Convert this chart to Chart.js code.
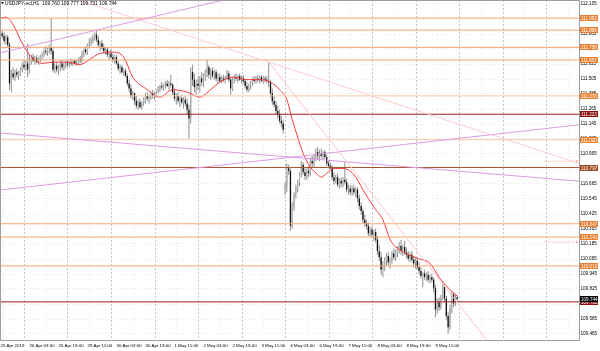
<!DOCTYPE html>
<html>
<head>
<meta charset="utf-8">
<script src="https://cdn.jsdelivr.net/npm/chart.js@4.4.1/dist/chart.umd.min.js"></script>
<style>
html,body{margin:0;padding:0;background:#fff;overflow:hidden}
canvas{display:block}
</style>
</head>
<body>
<canvas id="chart" width="600" height="351"></canvas>
<script>
// ---------------- data ----------------
const symbolTitle = 'USDJPY-ecl,H1';
const lastQuote = ['109.760', '109.777', '109.731', '109.744'];

const openP = [111.84,111.87,111.85,111.81,111.84,111.78,111.47,111.55,111.52,111.56,
111.54,111.55,111.58,111.62,111.60,111.63,111.58,111.66,111.68,111.65,
111.67,111.64,111.66,111.69,111.70,111.73,111.72,111.74,111.76,111.73,
111.58,111.61,111.58,111.60,111.63,111.60,111.62,111.63,111.62,111.64,
111.63,111.65,111.63,111.64,111.66,111.65,111.71,111.74,111.72,111.78,
111.80,111.82,111.84,111.86,111.82,111.78,111.79,111.76,111.73,111.74,
111.70,111.71,111.68,111.66,111.68,111.63,111.59,111.60,111.56,111.57,
111.53,111.47,111.43,111.37,111.39,111.33,111.29,111.32,111.28,111.31,
111.34,111.37,111.35,111.36,111.39,111.37,111.38,111.41,111.43,111.45,
111.44,111.46,111.47,111.45,111.47,111.46,111.40,111.35,111.37,111.33,
111.35,111.32,111.34,111.31,111.26,111.19,111.56,111.50,111.44,111.47,
111.45,111.51,111.48,111.53,111.56,111.60,111.54,111.57,111.53,111.56,
111.51,111.52,111.49,111.51,111.50,111.52,111.55,111.50,111.43,111.50,
111.52,111.51,111.53,111.50,111.51,111.49,111.45,111.42,111.45,111.47,
111.50,111.49,111.51,111.50,111.52,111.49,111.51,111.50,111.49,111.48,
111.39,111.33,111.30,111.25,111.22,111.17,111.15,110.62,110.66,110.79,
110.77,110.33,110.48,110.58,110.63,110.68,110.74,110.82,110.76,110.73,
110.77,110.75,110.85,110.83,110.88,110.92,110.89,110.91,110.89,110.92,
110.88,110.83,110.81,110.80,110.72,110.69,110.72,110.66,110.69,110.67,
110.70,110.68,110.62,110.63,110.60,110.63,110.60,110.62,110.55,110.49,
110.45,110.38,110.35,110.33,110.27,110.30,110.26,110.28,110.22,110.13,
110.08,109.98,110.02,110.05,110.09,110.04,110.06,110.11,110.08,110.12,
110.15,110.17,110.13,110.16,110.12,110.10,110.07,110.10,110.06,110.03,
110.05,110.00,109.97,109.93,109.95,109.92,109.94,109.90,109.92,109.90,
109.83,109.66,109.72,109.68,109.76,109.84,109.75,109.61,109.52,109.67,
109.78,109.71,109.760];

const highP = [111.90,111.89,111.88,111.86,111.86,111.80,111.58,111.60,111.58,111.59,
111.57,111.60,111.64,111.66,111.65,111.79,111.70,111.70,111.71,111.69,
111.70,111.68,111.70,111.72,111.75,111.77,111.76,111.78,111.992,111.75,
111.63,111.64,111.62,111.65,111.66,111.64,111.65,111.66,111.65,111.67,
111.66,111.67,111.66,111.68,111.69,111.73,111.75,111.77,111.79,111.83,
111.84,111.86,111.88,111.896,111.85,111.81,111.82,111.79,111.76,111.76,
111.73,111.74,111.71,111.70,111.70,111.65,111.62,111.62,111.59,111.59,
111.55,111.50,111.46,111.41,111.40,111.37,111.34,111.35,111.33,111.36,
111.39,111.40,111.38,111.40,111.42,111.40,111.42,111.45,111.46,111.48,
111.47,111.49,111.50,111.49,111.54,111.47,111.43,111.39,111.40,111.37,
111.38,111.36,111.37,111.35,111.30,111.60,111.62,111.55,111.50,111.52,
111.53,111.56,111.55,111.58,111.657,111.62,111.59,111.60,111.58,111.58,
111.55,111.55,111.53,111.54,111.53,111.58,111.57,111.52,111.52,111.54,
111.55,111.54,111.55,111.53,111.54,111.51,111.48,111.47,111.49,111.52,
111.53,111.53,111.54,111.53,111.54,111.53,111.53,111.53,111.64,111.50,
111.43,111.37,111.33,111.29,111.26,111.21,111.18,110.68,110.83,110.82,
110.79,110.52,110.60,110.66,110.70,110.76,110.85,110.84,110.80,110.79,
110.81,110.88,110.89,110.90,110.95,110.96,110.94,110.95,110.93,110.94,
110.90,110.86,110.84,110.82,110.76,110.74,110.75,110.71,110.72,110.72,
110.84,110.71,110.66,110.66,110.65,110.66,110.64,110.64,110.58,110.52,
110.47,110.42,110.38,110.36,110.32,110.33,110.30,110.31,110.25,110.18,
110.12,110.05,110.08,110.11,110.12,110.08,110.13,110.15,110.14,110.17,
110.20,110.22,110.18,110.21,110.16,110.13,110.12,110.13,110.09,110.07,
110.08,110.04,110.00,109.96,109.98,109.96,109.97,109.94,109.95,109.92,
109.86,109.75,109.76,109.78,109.88,109.86,109.77,109.64,109.70,109.80,
109.80,109.78,109.777];

const lowP = [111.82,111.83,111.79,111.78,111.76,111.42,111.40,111.50,111.49,111.52,
111.50,111.53,111.56,111.58,111.57,111.52,111.55,111.62,111.64,111.62,
111.63,111.62,111.64,111.66,111.68,111.70,111.69,111.71,111.70,111.56,
111.55,111.56,111.54,111.57,111.58,111.57,111.59,111.60,111.60,111.61,
111.61,111.62,111.61,111.62,111.63,111.63,111.68,111.70,111.70,111.75,
111.77,111.79,111.81,111.80,111.76,111.73,111.74,111.71,111.70,111.68,
111.66,111.67,111.64,111.63,111.62,111.57,111.55,111.55,111.53,111.52,
111.45,111.40,111.35,111.34,111.30,111.27,111.26,111.27,111.26,111.29,
111.31,111.33,111.31,111.34,111.35,111.34,111.36,111.39,111.40,111.42,
111.41,111.43,111.44,111.42,111.44,111.38,111.33,111.30,111.31,111.28,
111.30,111.27,111.29,111.22,111.03,111.15,111.45,111.40,111.38,111.42,
111.40,111.45,111.44,111.49,111.52,111.51,111.50,111.51,111.50,111.49,
111.47,111.48,111.47,111.48,111.47,111.50,111.48,111.38,111.41,111.47,
111.49,111.48,111.49,111.47,111.47,111.43,111.40,111.40,111.42,111.45,
111.47,111.47,111.48,111.47,111.48,111.47,111.48,111.47,111.44,111.36,
111.30,111.28,111.22,111.19,111.15,111.12,111.07,110.58,110.60,110.74,
110.29,110.31,110.45,110.55,110.60,110.65,110.72,110.74,110.70,110.70,
110.72,110.73,110.80,110.80,110.85,110.86,110.85,110.87,110.86,110.87,
110.81,110.79,110.78,110.70,110.66,110.67,110.64,110.63,110.64,110.64,
110.66,110.60,110.58,110.58,110.57,110.58,110.56,110.52,110.46,110.42,
110.35,110.32,110.30,110.25,110.24,110.24,110.21,110.20,110.10,110.05,
109.94,109.92,109.97,110.01,110.01,109.99,110.03,110.06,110.05,110.08,
110.11,110.10,110.09,110.10,110.07,110.05,110.04,110.04,110.00,109.99,
109.98,109.94,109.91,109.84,109.90,109.89,109.88,109.87,109.88,109.80,
109.60,109.63,109.65,109.66,109.74,109.72,109.58,109.47,109.50,109.63,
109.68,109.69,109.731];

const closeP = [111.87,111.85,111.81,111.84,111.78,111.47,111.55,111.52,111.56,111.54,
111.55,111.58,111.62,111.60,111.63,111.58,111.66,111.68,111.65,111.67,
111.64,111.66,111.69,111.70,111.73,111.72,111.74,111.76,111.73,111.58,
111.61,111.58,111.60,111.63,111.60,111.62,111.63,111.62,111.64,111.63,
111.65,111.63,111.64,111.66,111.65,111.71,111.74,111.72,111.78,111.80,
111.82,111.84,111.86,111.82,111.78,111.79,111.76,111.73,111.74,111.70,
111.71,111.68,111.66,111.68,111.63,111.59,111.60,111.56,111.57,111.53,
111.47,111.43,111.37,111.39,111.33,111.29,111.32,111.28,111.31,111.34,
111.37,111.35,111.36,111.39,111.37,111.38,111.41,111.43,111.45,111.44,
111.46,111.47,111.45,111.47,111.46,111.40,111.35,111.37,111.33,111.35,
111.32,111.34,111.31,111.26,111.19,111.56,111.50,111.44,111.47,111.45,
111.51,111.48,111.53,111.56,111.60,111.54,111.57,111.53,111.56,111.51,
111.52,111.49,111.51,111.50,111.52,111.55,111.50,111.43,111.50,111.52,
111.51,111.53,111.50,111.51,111.49,111.45,111.42,111.45,111.47,111.50,
111.49,111.51,111.50,111.52,111.49,111.51,111.50,111.49,111.48,111.39,
111.33,111.30,111.25,111.22,111.17,111.15,111.10,110.66,110.79,110.77,
110.33,110.48,110.58,110.63,110.68,110.74,110.82,110.76,110.73,110.77,
110.75,110.85,110.83,110.88,110.92,110.89,110.91,110.89,110.92,110.88,
110.83,110.81,110.80,110.72,110.69,110.72,110.66,110.69,110.67,110.70,
110.68,110.62,110.63,110.60,110.63,110.60,110.62,110.55,110.49,110.45,
110.38,110.35,110.33,110.27,110.30,110.26,110.28,110.22,110.13,110.08,
109.98,110.02,110.05,110.09,110.04,110.06,110.11,110.08,110.12,110.15,
110.17,110.13,110.16,110.12,110.10,110.07,110.10,110.06,110.03,110.05,
110.00,109.97,109.93,109.95,109.92,109.94,109.90,109.92,109.90,109.83,
109.66,109.72,109.68,109.76,109.84,109.75,109.61,109.52,109.67,109.78,
109.71,109.76,109.744];

// moving average (bar index, price)
const maBars   = [0,3,7,11,15,18,23,29,37,44,49,55,62,68,73,81,88,95,103,110,116,121,128,136,143,149,154,158,161,164,167,171,175,177,180,184,189,195,200,206,211,215,220,230,237,242,248,252];
const maValues = [111.99,112.00,111.94,111.82,111.72,111.67,111.63,111.64,111.64,111.62,111.66,111.71,111.72,111.68,111.52,111.42,111.36,111.42,111.40,111.36,111.42,111.48,111.52,111.50,111.50,111.48,111.42,111.34,111.18,111.04,110.91,110.80,110.74,110.72,110.75,110.79,110.79,110.74,110.62,110.48,110.38,110.22,110.14,110.07,110.03,109.92,109.82,109.77];

// time axis labels (every 16 H1 bars)
const labelBars  = [0,16,32,48,64,80,96,112,128,144,160,176,192,208,224,240];
const timeLabels = ['25 Apr 2019','26 Apr 03:00','26 Apr 19:00','29 Apr 11:00','30 Apr 03:00','30 Apr 19:00','1 May 11:00','2 May 03:00','2 May 19:00','3 May 11:00','6 May 03:00','6 May 19:00','7 May 11:00','8 May 03:00','8 May 19:00','9 May 11:00'];
const dayStartBars = [13,37,61,85,109,133,157,181,205,229,253,277,301];
const noonBars = [1,25,49,73,97,121,145,169,193,217,241,265,289,313];

// price axis ticks
const priceTicks = [112.105,111.985,111.865,111.745,111.625,111.505,111.385,111.265,111.145,111.025,110.905,110.785,110.665,110.545,110.425,110.305,110.185,110.065,109.945,109.825,109.705,109.585,109.465];

// horizontal price levels
const levelPrices = [111.992,111.896,111.758,111.657,111.370,111.223,111.020,110.797,110.347,110.241,110.010,109.722];
// trend lines: two anchor points each (bar index, price)
const purpleUpLine    = [[0,111.714],[53,111.896]];
const pinkShallowLine = [[148,111.640],[300,110.921]];
const pinkSteepLine   = [[148,111.640],[240,109.940]];
const purpleDownLine  = [[0,111.073],[300,110.711]];
const purpleRiseLine  = [[0,110.617],[300,111.107]];
// small alert markers near the price axis
const alertPrices = [110.849, 110.201];
const alertBars = [300, 318];

// ---------------- styles ----------------
const levelStyle = ['o','o','o','o','l','r','l','b','o','o','o','r'];
const STY = {
  o: {line:'#f3a670', label:'#e97f30'},
  l: {line:'#f7c8a6', label:'#ea8435'},
  r: {line:'#9a1e1e', label:'#8c0f0f'},
  b: {line:'#a5572d', label:'#9a4b1f'}
};
const X_MIN = -0.24, X_MAX = 319.2;
const Y_MIN = 109.417, Y_MAX = 112.137;
const FONT = '"Liberation Sans", Arial, sans-serif';

// ---------------- build ----------------
const isBull = i => closeP[i] >= openP[i];
const wickData = highP.map((h, i) => ({x: i, y: [lowP[i], h]}));
const bodyData = openP.map((o, i) => ({x: i, y: [o, closeP[i]]}));
const maData = maBars.map((b, i) => ({x: b, y: maValues[i]}));

function through(a, b, x0, x1) {
  const s = (b[1] - a[1]) / (b[0] - a[0]);
  return [{x: x0, y: a[1] + s * (x0 - a[0])}, {x: x1, y: a[1] + s * (x1 - a[0])}];
}
function lineDs(data, color, order, extra) {
  return Object.assign({type: 'line', data, borderColor: color, borderWidth: 1, pointRadius: 0,
    fill: false, tension: 0, order}, extra || {});
}

const datasets = [];
levelPrices.forEach((p, i) => {
  datasets.push(lineDs([{x: -2, y: p}, {x: 330, y: p}], STY[levelStyle[i]].line, 3));
});
datasets.push(lineDs(through(purpleUpLine[0], purpleUpLine[1], -2, 330), '#dc9ae2', 2));
datasets.push(lineDs(through(pinkShallowLine[0], pinkShallowLine[1], -2, 330), '#ffcad2', 2));
datasets.push(lineDs(through(pinkSteepLine[0], pinkSteepLine[1], pinkSteepLine[0][0], 330), '#ffc4cc', 2));
datasets.push(lineDs(through(purpleDownLine[0], purpleDownLine[1], -2, 330), '#dc9ae2', 2));
datasets.push(lineDs(through(purpleRiseLine[0], purpleRiseLine[1], -2, 330), '#dc9ae2', 2));
alertPrices.forEach(p => {
  datasets.push(lineDs(alertBars.map(b => ({x: b, y: p})), '#f6b0a0', 2,
    {borderDash: [1, 1], pointRadius: [0, 1.5], pointStyle: 'triangle', rotation: 90,
     pointBackgroundColor: '#f4a08c', pointBorderWidth: 0}));
});
datasets.push(lineDs(maData, '#f23a3a', 4, {cubicInterpolationMode: 'monotone'}));
datasets.push({type: 'bar', data: bodyData, grouped: false, maxBarThickness: 1.4, minBarLength: 1,
  borderWidth: 0, order: 8,
  backgroundColor: c => isBull(c.dataIndex) ? '#b3b3b3' : '#111111'});
datasets.push({type: 'bar', data: wickData, grouped: false, maxBarThickness: 1, minBarLength: 1,
  borderWidth: 0, order: 9, backgroundColor: '#8e8e8e'});

const zeroPad = s => { s.paddingLeft = 0; s.paddingRight = 0; s.paddingTop = 0; s.paddingBottom = 0; };

// vertical grid (day starts dashed, noons dotted) drawn from the x scale
const vGrid = {
  id: 'vGrid',
  beforeDatasetsDraw(chart) {
    const {ctx, chartArea: ca, scales: {x}} = chart;
    ctx.save();
    ctx.beginPath(); ctx.rect(ca.left, ca.top, ca.right - ca.left, ca.bottom - ca.top); ctx.clip();
    ctx.lineWidth = 1;
    const draw = (bars, color, dash) => {
      ctx.strokeStyle = color; ctx.setLineDash(dash);
      bars.forEach(b => {
        const px = Math.round(x.getPixelForValue(b)) + 0.5;
        ctx.beginPath(); ctx.moveTo(px, ca.top); ctx.lineTo(px, ca.bottom); ctx.stroke();
      });
    };
    draw(noonBars, '#ececec', [1, 2]);
    draw(dayStartBars, '#c6c6c6', [2, 2]);
    ctx.restore();
  }
};

const overlay = {
  id: 'overlay',
  afterDraw(chart) {
    const {ctx, chartArea: ca, scales: {y}} = chart;
    ctx.save();
    ctx.strokeStyle = '#9d9d9d';
    ctx.lineWidth = 1;
    ctx.beginPath();
    ctx.moveTo(0.5, ca.bottom + 0.5); ctx.lineTo(0.5, 0.5); ctx.lineTo(ca.right + 0.5, 0.5);
    ctx.lineTo(ca.right + 0.5, ca.bottom + 0.5); ctx.lineTo(0.5, ca.bottom + 0.5);
    ctx.stroke();
    ctx.font = '4.6px ' + FONT;
    ctx.textBaseline = 'middle';
    ctx.textAlign = 'left';
    const tag = (p, bg) => {
      const py = Math.round(y.getPixelForValue(p));
      ctx.fillStyle = bg;
      ctx.fillRect(ca.right + 1, py - 3, 18, 6);
      ctx.fillStyle = '#ffffff';
      ctx.fillText(p.toFixed(3), ca.right + 2, py + 0.3);
    };
    levelPrices.forEach((p, i) => tag(p, STY[levelStyle[i]].label));
    tag(closeP[closeP.length - 1], '#000000');
    ctx.fillStyle = '#333';
    ctx.beginPath(); ctx.moveTo(1, 2); ctx.lineTo(4, 2); ctx.lineTo(2.5, 4.5); ctx.closePath(); ctx.fill();
    ctx.fillStyle = '#000';
    ctx.font = '4.9px ' + FONT;
    ctx.fillText(symbolTitle + '  ' + lastQuote.join(' '), 5, 3.6);
    ctx.restore();
  }
};

Chart.defaults.font.family = FONT;
new Chart(document.getElementById('chart'), {
  type: 'bar',
  data: {datasets},
  options: {
    responsive: false,
    devicePixelRatio: 1,
    animation: false,
    events: [],
    layout: {padding: 0, autoPadding: false},
    plugins: {legend: {display: false}, tooltip: {enabled: false}},
    scales: {
      x: {
        type: 'linear', min: X_MIN, max: X_MAX, position: 'bottom', offset: false,
        afterBuildTicks: s => { s.ticks = labelBars.map(v => ({value: v})); },
        afterFit: s => { s.height = 11; zeroPad(s); },
        ticks: {autoSkip: false, maxRotation: 0, minRotation: 0, align: 'start', padding: 3.5,
          color: '#000', font: {size: 4.4}, callback: (v, i) => timeLabels[i]},
        grid: {display: false, drawTicks: false, offset: false}, border: {display: false}
      },
      y: {
        type: 'linear', min: Y_MIN, max: Y_MAX, position: 'right',
        afterBuildTicks: s => { s.ticks = priceTicks.map(v => ({value: v})); },
        afterFit: s => { s.width = 21; zeroPad(s); },
        ticks: {padding: 1.5, color: '#000', font: {size: 4.6}, callback: v => v.toFixed(3)},
        grid: {color: '#e9e9e9', drawTicks: false, lineWidth: 1},
        border: {display: false, dash: [1, 2]}
      }
    }
  },
  plugins: [vGrid, overlay]
});
</script>
</body>
</html>
